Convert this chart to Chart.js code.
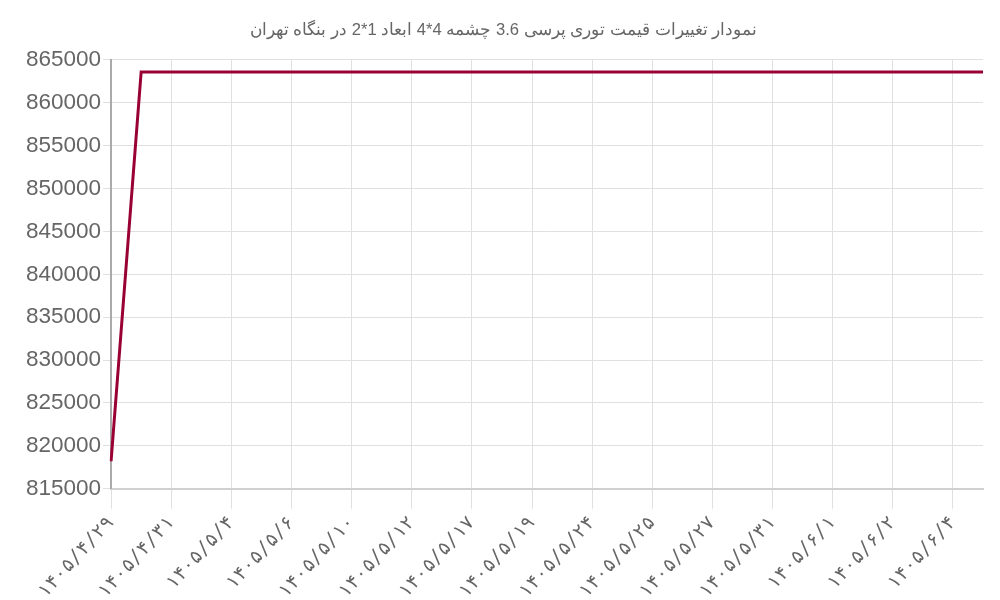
<!DOCTYPE html>
<html>
<head>
<meta charset="utf-8">
<script src="https://cdn.jsdelivr.net/npm/chart.js@4"></script>
<style>
html,body{margin:0;padding:0;background:#fff;}
#wrap{width:1000px;height:600px;}
</style>
</head>
<body>
<div id="wrap"><canvas id="c"></canvas></div>
<script>
const chartTitle = 'نمودار تغییرات قیمت توری پرسی 3.6 چشمه 4*4 ابعاد 1*2 در بنگاه تهران';
const dateLabels = [
  '۱۴۰۵/۴/۲۹','۱۴۰۵/۴/۳۰','۱۴۰۵/۴/۳۱','۱۴۰۵/۵/۳','۱۴۰۵/۵/۴','۱۴۰۵/۵/۵',
  '۱۴۰۵/۵/۶','۱۴۰۵/۵/۹','۱۴۰۵/۵/۱۰','۱۴۰۵/۵/۱۱','۱۴۰۵/۵/۱۲','۱۴۰۵/۵/۱۶',
  '۱۴۰۵/۵/۱۷','۱۴۰۵/۵/۱۸','۱۴۰۵/۵/۱۹','۱۴۰۵/۵/۲۳','۱۴۰۵/۵/۲۴','۱۴۰۵/۵/۲۴',
  '۱۴۰۵/۵/۲۵','۱۴۰۵/۵/۲۶','۱۴۰۵/۵/۲۷','۱۴۰۵/۵/۳۰','۱۴۰۵/۵/۳۱','۱۴۰۵/۵/۳۱',
  '۱۴۰۵/۶/۱','۱۴۰۵/۶/۱','۱۴۰۵/۶/۲','۱۴۰۵/۶/۳','۱۴۰۵/۶/۴','۱۴۰۵/۶/۵'
];
const prices = [
  818200,863600,863600,863600,863600,863600,
  863600,863600,863600,863600,863600,863600,
  863600,863600,863600,863600,863600,863600,
  863600,863600,863600,863600,863600,863600,
  863600,863600,863600,863600,863600,863600
];
const yMin = 815000, yMax = 865000, yStep = 5000;

new Chart(document.getElementById('c'), {
  type: 'line',
  data: {
    labels: dateLabels,
    datasets: [{
      data: prices,
      borderColor: '#990033',
      backgroundColor: '#990033',
      borderWidth: 3,
      pointRadius: 0,
      tension: 0,
      fill: false
    }]
  },
  options: {
    responsive: true,
    maintainAspectRatio: false,
    animation: false,
    layout: { padding: { right: 17, left: 24, top: 0, bottom: -6 } },
    plugins: {
      legend: { display: false },
      tooltip: { enabled: false },
      title: {
        display: true,
        text: chartTitle,
        color: '#666',
        font: { size: 16.6, weight: 'normal' },
        padding: { top: 20, bottom: 20 }
      }
    },
    scales: {
      x: {
        grid: { color: '#e0e0e0', lineWidth: 1, tickLength: 20 },
        border: { color: '#d0d0d0', width: 2 },
        ticks: {
          color: '#666',
          font: { size: 19, family: "'DejaVu Sans Mono', monospace" },
          minRotation: 47.5,
          maxRotation: 47.5,
          autoSkip: true,
          maxTicksLimit: 15,
          padding: 3
        }
      },
      y: {
        min: yMin,
        max: yMax,
        grid: { color: '#e0e0e0', lineWidth: 1, tickLength: 8 },
        border: { color: '#aaaaaa', width: 2 },
        ticks: {
          color: '#666',
          font: { size: 22.5 },
          stepSize: yStep,
          padding: 2,
          callback: v => String(v)
        }
      }
    }
  }
});
</script>
</body>
</html>
